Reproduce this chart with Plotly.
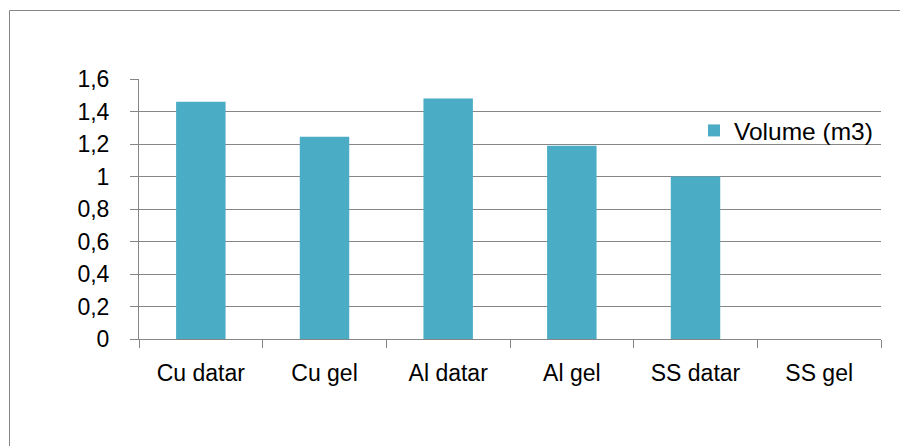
import plotly.graph_objects as go

categories = ["Cu datar", "Cu gel", "Al datar", "Al gel", "SS datar", "SS gel"]
volume = [1.46, 1.245, 1.48, 1.19, 1.0, 0.0]
y_ticks = [0, 0.2, 0.4, 0.6, 0.8, 1.0, 1.2, 1.4, 1.6]
series_name = "Volume (m3)"

W, H = 900, 446
L, R, T, B = 139, 19, 79, 107
pw = W - L - R
ph = H - T - B

fig = go.Figure()
fig.add_trace(go.Bar(x=categories, y=volume, name=series_name,
                     marker=dict(color="#4BACC6", line=dict(width=0))))

grey = "#868686"
font = dict(family="Liberation Sans, Arial, sans-serif", size=23, color="#000000")
legend_font = dict(family="Liberation Sans, Arial, sans-serif", size=24.5, color="#000000")

fig.update_layout(
    width=W, height=H,
    margin=dict(l=L, r=R, t=T, b=B),
    paper_bgcolor="white", plot_bgcolor="white",
    font=font,
    separators=",.",
    bargap=0.6,
    showlegend=True,
    legend=dict(x=(694 - L) / pw, y=1 - (108 - T) / ph, xanchor="left", yanchor="top",
                bgcolor="rgba(0,0,0,0)", font=legend_font, itemwidth=30),
    xaxis=dict(showgrid=False, showline=True, linecolor=grey, linewidth=1,
               ticks="outside", ticklen=8, tickcolor=grey, tickson="boundaries",
               ticklabelstandoff=13, range=[-0.5, 5.5]),
    yaxis=dict(range=[0, 1.6], tickvals=y_ticks, showgrid=True, gridcolor=grey, gridwidth=1,
               showline=True, linecolor=grey, linewidth=1, ticks="outside", ticklen=8,
               tickcolor=grey, ticklabelstandoff=16, zeroline=False),
    shapes=[dict(type="rect", xref="paper", yref="paper",
                 x0=(9.5 - L) / pw, x1=(W + 5 - L) / pw,
                 y0=-(H + 5 - T - ph) / ph, y1=1 + (T - 10.5) / ph,
                 line=dict(color=grey, width=1), fillcolor="rgba(0,0,0,0)", layer="below")],
)

fig.write_html("out.html")
